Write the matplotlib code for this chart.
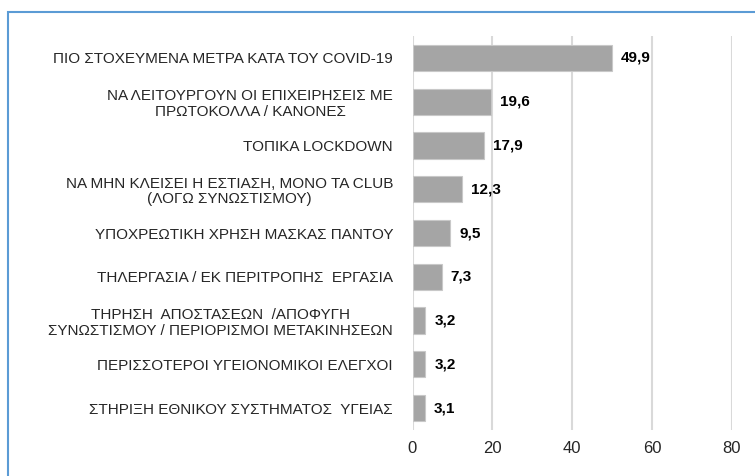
import matplotlib.pyplot as plt
import matplotlib.patches as patches

categories = [
    "ΠΙΟ ΣΤΟΧΕΥΜΕΝΑ ΜΕΤΡΑ ΚΑΤΑ ΤΟΥ COVID-19",
    "ΝΑ ΛΕΙΤΟΥΡΓΟΥΝ ΟΙ ΕΠΙΧΕΙΡΗΣΕΙΣ ΜΕ\nΠΡΩΤΟΚΟΛΛΑ / ΚΑΝΟΝΕΣ",
    "ΤΟΠΙΚΑ LOCKDOWN",
    "ΝΑ ΜΗΝ ΚΛΕΙΣΕΙ Η ΕΣΤΙΑΣΗ, ΜΟΝΟ ΤΑ CLUB\n(ΛΟΓΩ ΣΥΝΩΣΤΙΣΜΟΥ)",
    "ΥΠΟΧΡΕΩΤΙΚΗ ΧΡΗΣΗ ΜΑΣΚΑΣ ΠΑΝΤΟΥ",
    "ΤΗΛΕΡΓΑΣΙΑ / ΕΚ ΠΕΡΙΤΡΟΠΗΣ  ΕΡΓΑΣΙΑ",
    "ΤΗΡΗΣΗ  ΑΠΟΣΤΑΣΕΩΝ  /ΑΠΟΦΥΓΗ\nΣΥΝΩΣΤΙΣΜΟΥ / ΠΕΡΙΟΡΙΣΜΟΙ ΜΕΤΑΚΙΝΗΣΕΩΝ",
    "ΠΕΡΙΣΣΟΤΕΡΟΙ ΥΓΕΙΟΝΟΜΙΚΟΙ ΕΛΕΓΧΟΙ",
    "ΣΤΗΡΙΞΗ ΕΘΝΙΚΟΥ ΣΥΣΤΗΜΑΤΟΣ  ΥΓΕΙΑΣ",
]
values = [49.9, 19.6, 17.9, 12.3, 9.5, 7.3, 3.2, 3.2, 3.1]
xticks = [0, 20, 40, 60, 80]

plt.rcParams['font.family'] = ['Liberation Sans', 'DejaVu Sans']

fig = plt.figure(figsize=(7.55, 4.76), dpi=100)
ax = fig.add_axes([412.5 / 755, 1 - 430 / 476, (731.7 - 412.5) / 755, (430 - 36) / 476])

y = list(range(len(categories)))
ax.barh(y, values, height=0.6, color='#A5A5A5', edgecolor='#C8C8C8', linewidth=0.8, zorder=3)
for yi, v in zip(y, values):
    ax.text(v + 2.3, yi, ("%.1f" % v).replace('.', ','), va='center', ha='left',
            fontsize=11, fontweight='bold', color='#000000')

ax.set_yticks(y)
ax.set_yticklabels(categories, multialignment='center', fontsize=11, color='#262626',
                   linespacing=1.15)
ax.set_ylim(len(categories) - 0.5, -0.5)
ax.set_xlim(0, 80)
ax.set_xticks(xticks)
ax.set_xticklabels([str(t) for t in xticks], fontsize=12, color='#262626')
ax.tick_params(axis='both', length=0)
ax.tick_params(axis='y', pad=14)
ax.tick_params(axis='x', pad=8)
ax.grid(axis='x', color='#D9D9D9', linewidth=1.5, zorder=0)
for s in ax.spines.values():
    s.set_visible(False)

# light blue frame around the chart area
frame = patches.Rectangle((7.5 / 755, -0.1), 1.2, 1.1 - 12.5 / 476, transform=fig.transFigure,
                          fill=False, edgecolor='#5B9BD5', linewidth=1.5, clip_on=False)
fig.patches.append(frame)

fig.savefig('out.png', dpi=100)
